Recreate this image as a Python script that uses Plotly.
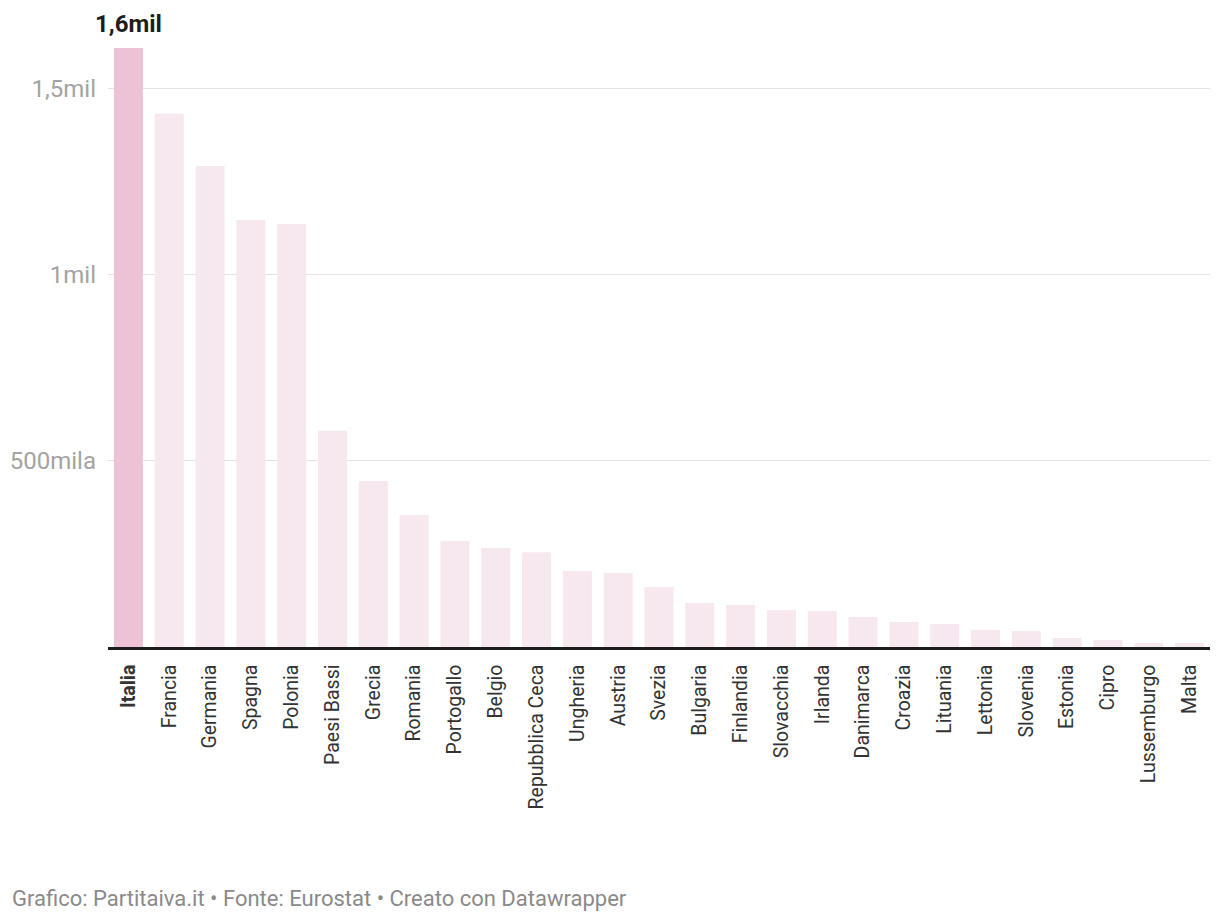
import plotly.graph_objects as go

countries = ["Italia", "Francia", "Germania", "Spagna", "Polonia", "Paesi Bassi", "Grecia",
             "Romania", "Portogallo", "Belgio", "Repubblica Ceca", "Ungheria", "Austria",
             "Svezia", "Bulgaria", "Finlandia", "Slovacchia", "Irlanda", "Danimarca",
             "Croazia", "Lituania", "Lettonia", "Slovenia", "Estonia", "Cipro",
             "Lussemburgo", "Malta"]
values = [1610000, 1433000, 1293000, 1148000, 1137000, 581000, 446000,
          355000, 285000, 266000, 255000, 204000, 199000,
          161000, 118000, 113000, 99000, 97000, 81000,
          67000, 62000, 46000, 43000, 24000, 19000,
          11000, 11000]
ytick_vals = [500000, 1000000, 1500000]
ytick_text = ["500mila", "1mil", "1,5mil"]
highlight = "Italia"
highlight_label = "1,6mil"

colors = ["#edc1d6" if c == highlight else "#f7e7ef" for c in countries]
ticktext = [f"<b>{c}</b>" if c == highlight else c for c in countries]

fig = go.Figure()
fig.add_trace(go.Bar(x=countries, y=values, marker=dict(color=colors, line=dict(width=0)),
                     hoverinfo="x+y"))

# page body has an 8px default margin; offsets compensate
OFF = 8
W, H = 1220, 924
ml, mr, mt, mb = 108 - OFF, 18, 48 - OFF, H + OFF - 647
plot_h = H - mt - mb
plot_w = W - ml - mr

fig.update_layout(
    width=W, height=H,
    margin=dict(l=ml, r=mr, t=mt, b=mb, pad=0, autoexpand=False),
    plot_bgcolor="white", paper_bgcolor="white",
    bargap=0.29,
    showlegend=False,
    font=dict(family="Roboto, sans-serif"),
    xaxis=dict(
        tickmode="array", tickvals=countries, ticktext=ticktext,
        range=[-0.5, len(countries) - 0.5],
        tickangle=-90, tickfont=dict(size=19.5, color="#333333"),
        showline=True, linecolor="#1d1d1d", linewidth=2.5,
        showgrid=False, ticks="", ticklabelstandoff=7,
        automargin=False, fixedrange=True,
    ),
    yaxis=dict(
        range=[0, max(values)],
        tickmode="array", tickvals=ytick_vals, ticktext=ytick_text,
        tickfont=dict(size=24, color="#a3a3a3"),
        showgrid=True, gridcolor="#e3e3e3", gridwidth=1,
        zeroline=False, showline=False, ticks="",
        ticklabelstandoff=11,
        automargin=False, fixedrange=True,
    ),
)

fig.add_annotation(x=highlight, y=values[countries.index(highlight)], text=f"<b>{highlight_label}</b>",
                   showarrow=False, yanchor="bottom", yshift=8,
                   font=dict(size=24, color="#1d1d1d", family="Roboto, sans-serif"))

fig.add_annotation(xref="paper", yref="paper",
                   x=(10 - OFF - ml) / plot_w, y=(H - mb - (898 - OFF)) / plot_h,
                   xanchor="left", yanchor="middle", showarrow=False,
                   text="Grafico: Partitaiva.it • Fonte: Eurostat • Creato con Datawrapper",
                   font=dict(size=22, color="#8a8a8a", family="Roboto, sans-serif"))

fig.write_html("out.html")
